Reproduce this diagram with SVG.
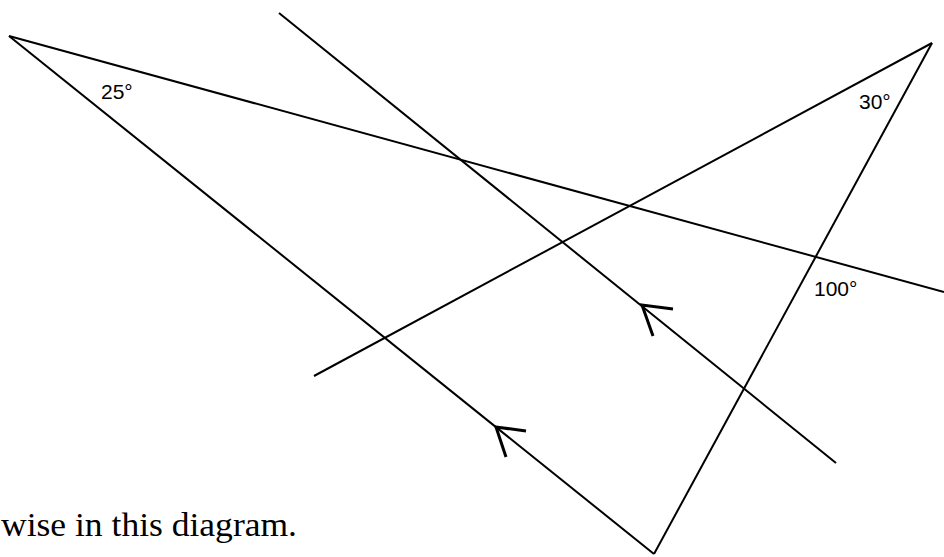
<svg xmlns="http://www.w3.org/2000/svg" width="944" height="557" viewBox="0 0 944 557">
<style>
.ln{stroke:#000;stroke-width:2;fill:none;stroke-linecap:butt}
.ar{stroke:#000;stroke-width:3;fill:none;stroke-linecap:butt;stroke-linejoin:miter}
.lbl{font-family:"Liberation Sans",Arial,sans-serif;font-size:21px;fill:#000}
.cap{font-family:"Liberation Serif","Times New Roman",serif;font-size:34px;fill:#000}
</style>
<rect width="944" height="557" fill="#fff"/>
<g id="connectors">
<line class="ln" x1="9" y1="36" x2="944" y2="292"/>
<line class="ln" x1="9" y1="36" x2="654" y2="554"/>
<line class="ln" x1="654" y1="554" x2="932" y2="43"/>
<line class="ln" x1="932" y1="43" x2="314" y2="376"/>
<line class="ln" x1="279" y1="13" x2="836" y2="463"/>
<polyline class="ar" points="673,309 642,305 653,336"/>
<polyline class="ar" points="526,431 496,427 506,457"/>
</g>
<g id="angle-25"><text class="lbl" x="101" y="99">25°</text></g>
<g id="angle-30"><text class="lbl" x="859" y="109">30°</text></g>
<g id="angle-100"><text class="lbl" x="814" y="296">100°</text></g>
<g id="caption"><text class="cap" x="1" y="536" textLength="296" lengthAdjust="spacingAndGlyphs">wise in this diagram.</text></g>
</svg>
